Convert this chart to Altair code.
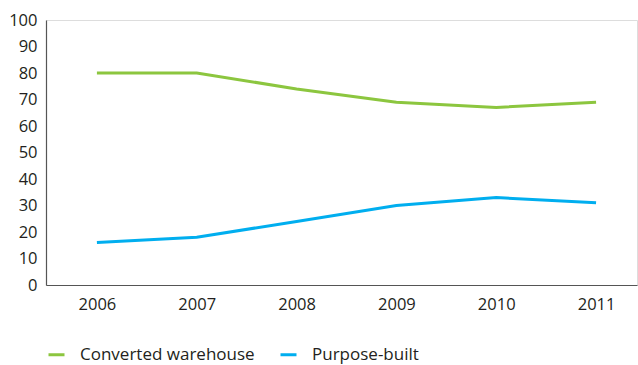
import altair as alt
import pandas as pd

years = [2006, 2007, 2008, 2009, 2010, 2011]
converted = [80, 80, 74, 69, 67, 69]
purpose = [16, 18, 24, 30, 33, 31]
series_names = ["Converted warehouse", "Purpose-built"]
colors = ["#8cc63f", "#00aeef"]
y_ticks = [0, 10, 20, 30, 40, 50, 60, 70, 80, 90, 100]

rows = []
for y, c, p in zip(years, converted, purpose):
    rows.append({"year": y, "series": series_names[0], "value": c})
    rows.append({"year": y, "series": series_names[1], "value": p})
df = pd.DataFrame(rows)

FONT = "Open Sans"
TXT = "#231f20"

chart = alt.Chart(df).mark_line(strokeWidth=3).encode(
    x=alt.X(
        "year:Q",
        scale=alt.Scale(domain=[2005.49, 2011.41], nice=False, zero=False),
        axis=alt.Axis(
            values=years, format="d", title=None, ticks=False, grid=False,
            labelPadding=11, labelFontSize=16.5, labelFont=FONT, labelColor=TXT,
            domainColor="#555555", domainWidth=1.2, labelFlush=False,
        ),
    ),
    y=alt.Y(
        "value:Q",
        scale=alt.Scale(domain=[0, 100], nice=False),
        axis=alt.Axis(
            values=y_ticks, title=None, ticks=False, grid=False,
            labelPadding=9, labelFontSize=16.5, labelFont=FONT, labelColor=TXT,
            domainColor="#555555", domainWidth=1.2,
        ),
    ),
    color=alt.Color(
        "series:N",
        scale=alt.Scale(domain=series_names, range=colors),
        legend=alt.Legend(
            title=None, orient="none", legendX=1, legendY=325,
            direction="horizontal", symbolType="stroke", symbolSize=256,
            symbolStrokeWidth=3, labelFontSize=17, labelFont=FONT,
            labelColor=TXT, labelOffset=14, columnPadding=19, padding=0,
            labelLimit=400, labelBaseline="middle",
        ),
    ),
).properties(
    width=591, height=265,
    autosize=alt.AutoSizeParams(type="none"),
    padding={"left": 46, "top": 20, "right": 1, "bottom": 80},
).configure_view(stroke=None).configure(background="white")

chart.save("out.html", embed_options={"renderer": "svg", "actions": False})
